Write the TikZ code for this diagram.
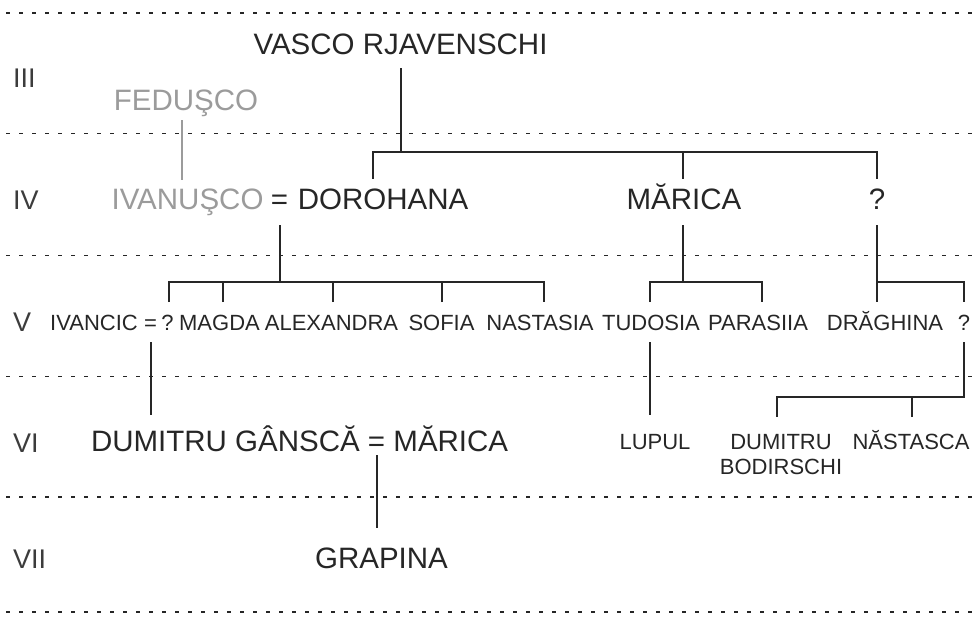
\documentclass[tikz,border=0pt]{standalone}
\usepackage{fontspec}
\setmainfont{Liberation Sans}
\usetikzlibrary{calc}
\definecolor{ink}{HTML}{262626}
\definecolor{pale}{HTML}{9B9B9B}
\tikzset{
  big/.style={inner sep=0pt, anchor=base, text=ink, text height=21.1pt, text depth=0pt,
    font=\fontsize{29.5pt}{35pt}\selectfont},
  small/.style={inner sep=0pt, anchor=base, text=ink, text height=15.8pt, text depth=0pt,
    font=\fontsize{22pt}{26pt}\selectfont},
  gen/.style={inner sep=0pt, anchor=base west, text=ink!90,
    font=\fontsize{27pt}{32pt}\selectfont},
  conn/.style={draw=ink, line width=2pt},
  gconn/.style={draw=pale, line width=2pt},
  sep/.style={draw=ink, line width=1.8pt, dash pattern=on 4pt off 9pt}
}
\begin{document}
\begin{tikzpicture}[x=1pt, y=-1pt]
\useasboundingbox (0,0) rectangle (976,618);
% generation separators
\foreach \yy in {13,133.5,255.5,376.5,497,612}
  \draw[sep] (6,\yy) -- (976,\yy);
% generation labels
\node[gen] (gIII) at (13,87) {III};
\node[gen] (gIV) at (13,209) {IV};
\node[gen] (gV) at (13,331) {V};
\node[gen] (gVI) at (13,452) {VI};
\node[gen] (gVII) at (13,568) {VII};
% row III
\node[big] (vasco) at (400.5,55) {VASCO RJAVENSCHI};
\node[big, text=pale] (fed) at (186,110) {FEDUŞCO};
% row IV
\node[big, text=pale] (ivan) at (187.5,209) {IVANUŞCO};
\node[big] (eq1) at (279.5,209) {=};
\node[big] (dname) at (383,209) {DOROHANA};
\node[big] (mar4) at (684,209) {MĂRICA};
\node[big] (q4) at (877,209) {?};
% row V
\node[small, anchor=base west] (ivc) at (50,330) {IVANCIC};
\node[small] (eq2) at (150.5,330) {=};
\node[small] (q5a) at (167.5,330) {?};
\node[small] (magda) at (219.5,330) {MAGDA};
\node[small] (alex) at (331.5,330) {ALEXANDRA};
\node[small] (sofia) at (441.5,330) {SOFIA};
\node[small] (nast5) at (540,330) {NASTASIA};
\node[small] (tud) at (651,330) {TUDOSIA};
\node[small] (par) at (758,330) {PARASIIA};
\node[small] (drag) at (885,330) {DRĂGHINA};
\node[small] (q5b) at (964,330) {?};
% row VI
\node[big] (dg) at (225.4,451) {DUMITRU GÂNSCĂ};
\node[big] (eq3) at (376.6,451) {=};
\node[big] (mar6) at (450.8,451) {MĂRICA};
\node[small] (lupul) at (655,449) {LUPUL};
\node[small] (dbod1) at (781,449) {DUMITRU};
\node[small] (dbod2) at (781,474) {BODIRSCHI};
\node[small] (nast6) at (911,449) {NĂSTASCA};
% row VII
\node[big] (grap) at (381.5,568) {GRAPINA};
% ---- connectors ----
% III -> IV
\draw[conn] ($(vasco.south)+(0.5,13)$) -- ++(0,84);
\draw[conn] ($(dname.north)+(-10,-9)$) -- ++(0,-27) -| ($(q4.north)+(0,-9)$);
\draw[conn] ($(mar4.north)+(-1,-9)$) -- ++(0,-27);
\draw[gconn] ($(fed.south)+(-4.5,10)$) -- ($(ivan.north)+(-6,-8)$);
% IV -> V (Dorohana)
\draw[conn] ($(eq1.south)+(0.5,16)$) -- ++(0,57);
\draw[conn] ($(q5a.north)+(1.5,-12)$) -- ++(0,-20) -| ($(nast5.north)+(4,-12)$);
\draw[conn] ($(magda.north)+(3.5,-12)$) -- ++(0,-20);
\draw[conn] ($(alex.north)+(1.5,-12)$) -- ++(0,-20);
\draw[conn] ($(sofia.north)+(0.5,-12)$) -- ++(0,-20);
% IV -> V (Marica)
\draw[conn] ($(mar4.south)+(-1,16)$) -- ++(0,57);
\draw[conn] ($(tud.north)+(-1,-12)$) -- ++(0,-20) -| ($(par.north)+(4,-12)$);
% IV -> V (?)
\draw[conn] ($(q4.south)+(0,16)$) -- ($(drag.north)+(-8,-12)$);
\draw[conn] ($(q4.south)+(0,73)$) -| ($(q5b.north)+(0,-12)$);
% V -> VI
\draw[conn] ($(eq2.south)+(0.5,12)$) -- ($(eq2.south |- dg.north)+(0.5,-15)$);
\draw[conn] ($(tud.south)+(-1,12)$) -- ($(lupul.north)+(-5,-18)$);
\draw[conn] ($(q5b.south)+(0,12)$) -- ++(0,55) -| ($(dbod1.north)+(-4,-16)$);
\draw[conn] ($(nast6.north)+(1,-16)$) -- ++(0,-20);
% VI -> VII
\draw[conn] ($(eq3.south)+(0.4,4)$) -- ($(grap.north)+(-4.5,-19)$);
\end{tikzpicture}
\end{document}
